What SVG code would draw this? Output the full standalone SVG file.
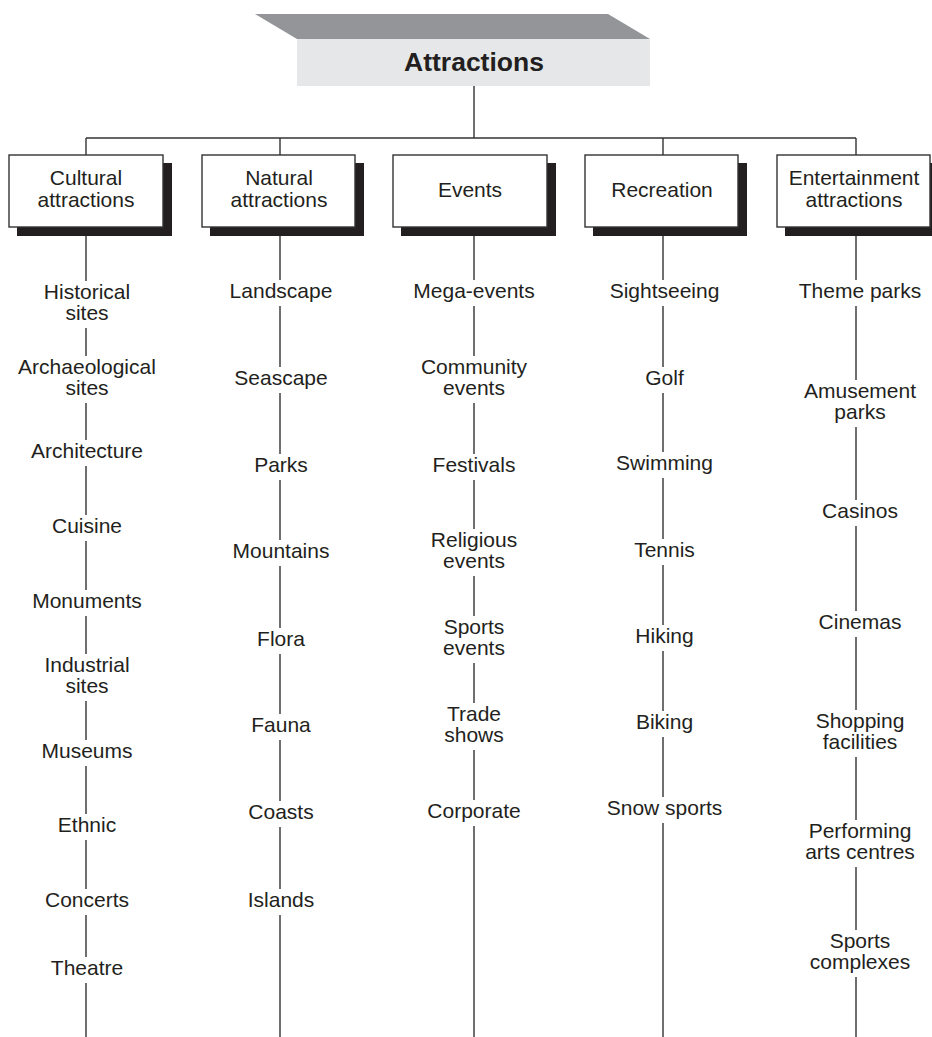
<svg xmlns="http://www.w3.org/2000/svg" width="932" height="1037" viewBox="0 0 932 1037">
  <style>
    .ln { stroke: #333; stroke-width: 1.4; fill: none; }
    .box { fill: #fff; stroke: #333; stroke-width: 1.4; }
    .sh { fill: #231f20; }
    text { font-family: "Liberation Sans", Arial, sans-serif; font-size: 21px; fill: #231f20; text-anchor: middle; }
    .title { font-size: 26.5px; font-weight: bold; }
  </style>
  <rect width="932" height="1037" fill="#fff"/>

  <!-- tree connectors -->
  <g id="connectors">
    <line class="ln" x1="474" y1="86" x2="474" y2="138"/>
    <line class="ln" x1="86" y1="138" x2="856" y2="138"/>
    <line class="ln" x1="86" y1="138" x2="86" y2="155"/>
    <line class="ln" x1="280" y1="138" x2="280" y2="155"/>
    <line class="ln" x1="663" y1="138" x2="663" y2="155"/>
    <line class="ln" x1="856" y1="138" x2="856" y2="155"/>
    <!-- column spines, broken around labels -->
    <path class="ln" d="M86 236V281 M86 328V356 M86 403V440 M86 466V515 M86 541V590 M86 616V654 M86 701V740 M86 766V814 M86 840V889 M86 915V957 M86 983V1037"/>
    <path class="ln" d="M280 236V280 M280 306V367 M280 393V454 M280 480V540 M280 566V628 M280 654V714 M280 740V801 M280 827V889 M280 915V1037"/>
    <path class="ln" d="M474 236V280 M474 306V356 M474 403V454 M474 480V529 M474 576V616 M474 663V703 M474 750V800 M474 826V1037"/>
    <path class="ln" d="M663 236V280 M663 306V367 M663 393V452 M663 478V539 M663 565V625 M663 651V711 M663 737V797 M663 823V1037"/>
    <path class="ln" d="M856 236V280 M856 306V380 M856 427V500 M856 526V611 M856 637V710 M856 757V820 M856 867V930 M856 977V1037"/>
  </g>

  <!-- root -->
  <g id="attractions">
    <polygon points="255,14 608,14 650,39 297,39" fill="#939598"/>
    <rect x="297" y="39" width="353" height="47" fill="#e6e7e8"/>
    <text class="title" x="474" y="70.5">Attractions</text>
  </g>

  <!-- category boxes -->
  <g id="cultural">
    <rect class="sh" x="17" y="163" width="155" height="73"/>
    <rect class="box" x="9" y="155" width="154" height="72"/>
    <text x="86" y="185">Cultural</text>
    <text x="86" y="206.5">attractions</text>
  </g>
  <g id="natural">
    <rect class="sh" x="210" y="163" width="154" height="73"/>
    <rect class="box" x="202" y="155" width="153" height="72"/>
    <text x="279" y="185">Natural</text>
    <text x="279" y="206.5">attractions</text>
  </g>
  <g id="events">
    <rect class="sh" x="401" y="163" width="155" height="73"/>
    <rect class="box" x="393" y="155" width="154" height="72"/>
    <text x="470" y="196.5">Events</text>
  </g>
  <g id="recreation">
    <rect class="sh" x="593" y="163" width="154" height="73"/>
    <rect class="box" x="585" y="155" width="153" height="72"/>
    <text x="662" y="196.5">Recreation</text>
  </g>
  <g id="entertainment">
    <rect class="sh" x="785" y="163" width="154" height="73"/>
    <rect class="box" x="777" y="155" width="153" height="72"/>
    <text x="854" y="185">Entertainment</text>
    <text x="854" y="206.5">attractions</text>
  </g>

  <!-- cultural items -->
  <g id="cultural-items">
    <text x="87" y="299">Historical</text>
    <text x="87" y="320">sites</text>
    <text x="87" y="374">Archaeological</text>
    <text x="87" y="395">sites</text>
    <text x="87" y="458">Architecture</text>
    <text x="87" y="533">Cuisine</text>
    <text x="87" y="608">Monuments</text>
    <text x="87" y="672">Industrial</text>
    <text x="87" y="693">sites</text>
    <text x="87" y="758">Museums</text>
    <text x="87" y="832">Ethnic</text>
    <text x="87" y="907">Concerts</text>
    <text x="87" y="975">Theatre</text>
  </g>

  <!-- natural items -->
  <g id="natural-items">
    <text x="281" y="298">Landscape</text>
    <text x="281" y="385">Seascape</text>
    <text x="281" y="472">Parks</text>
    <text x="281" y="558">Mountains</text>
    <text x="281" y="646">Flora</text>
    <text x="281" y="732">Fauna</text>
    <text x="281" y="819">Coasts</text>
    <text x="281" y="907">Islands</text>
  </g>

  <!-- event items -->
  <g id="events-items">
    <text x="474" y="298">Mega-events</text>
    <text x="474" y="374">Community</text>
    <text x="474" y="395">events</text>
    <text x="474" y="472">Festivals</text>
    <text x="474" y="547">Religious</text>
    <text x="474" y="568">events</text>
    <text x="474" y="634">Sports</text>
    <text x="474" y="655">events</text>
    <text x="474" y="721">Trade</text>
    <text x="474" y="742">shows</text>
    <text x="474" y="818">Corporate</text>
  </g>

  <!-- recreation items -->
  <g id="recreation-items">
    <text x="664.5" y="298">Sightseeing</text>
    <text x="664.5" y="385">Golf</text>
    <text x="664.5" y="470">Swimming</text>
    <text x="664.5" y="557">Tennis</text>
    <text x="664.5" y="643">Hiking</text>
    <text x="664.5" y="729">Biking</text>
    <text x="664.5" y="815">Snow sports</text>
  </g>

  <!-- entertainment items -->
  <g id="entertainment-items">
    <text x="860" y="298">Theme parks</text>
    <text x="860" y="398">Amusement</text>
    <text x="860" y="419">parks</text>
    <text x="860" y="518">Casinos</text>
    <text x="860" y="629">Cinemas</text>
    <text x="860" y="728">Shopping</text>
    <text x="860" y="749">facilities</text>
    <text x="860" y="838">Performing</text>
    <text x="860" y="859">arts centres</text>
    <text x="860" y="948">Sports</text>
    <text x="860" y="969">complexes</text>
  </g>
</svg>
